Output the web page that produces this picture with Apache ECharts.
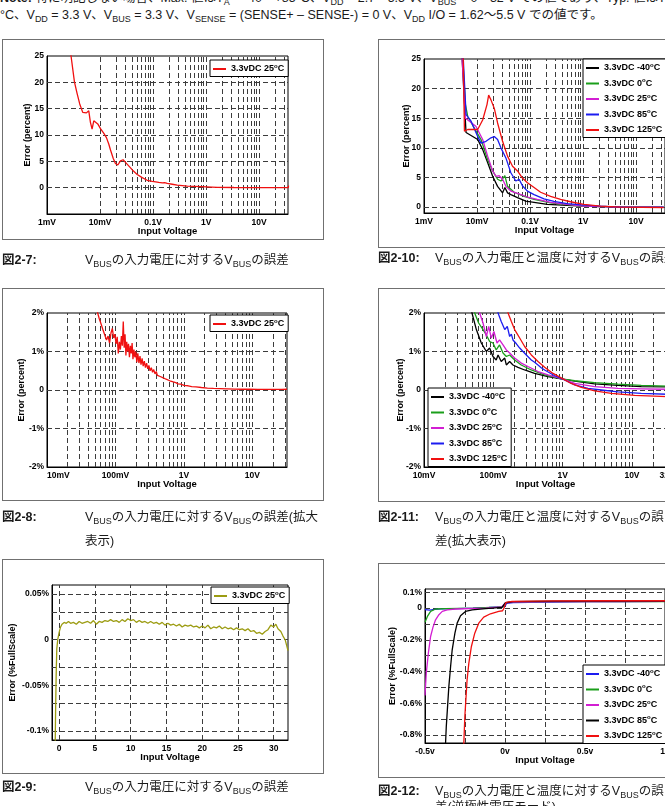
<!DOCTYPE html>
<html>
<head>
<meta charset="utf-8">
<script src="https://cdn.jsdelivr.net/npm/echarts@6/dist/echarts.min.js"></script>
<style>
  body { margin: 0; width: 665px; height: 806px; overflow: hidden; background: #fff; position: relative;
         font-family: 'Liberation Sans', 'Noto Sans CJK JP', sans-serif; color: #1a1a1a; }
  .frame { position: absolute; border: 1px solid #707070; box-sizing: border-box; pointer-events: none; }
  .chart { position: absolute; }
  .cap { position: absolute; font-size: 12.5px; line-height: 16px; white-space: nowrap; }
  .note { position: absolute; left: 0; font-size: 12.5px; line-height: 16px; white-space: nowrap; }
  sub { font-size: 0.72em; vertical-align: -0.3em; line-height: 0; }
</style>
</head>
<body>
<div class="note" style="top:-10px"><b>Note:</b> 特に明記しない場合、Max. 値はT<sub>A</sub> = -40～+85°C、V<sub>DD</sub> = 2.7～5.5 V、V<sub>BUS</sub> = 0～32 V での値であり、Typ. 値はT<sub>A</sub> = +25</div>
<div class="note" style="top:7px">°C、V<sub>DD</sub> = 3.3 V、V<sub>BUS</sub> = 3.3 V、V<sub>SENSE</sub> = (SENSE+ – SENSE-) = 0 V、V<sub>DD</sub> I/O = 1.62～5.5 V での値です。</div>

<div id="c7" class="chart" style="left:2px;top:39px;width:322px;height:201px"></div>
<div class="frame" style="left:2px;top:39px;width:322px;height:201px"></div>
<div id="c10" class="chart" style="left:378px;top:39px;width:320px;height:209px"></div>
<div class="frame" style="left:378px;top:39px;width:320px;height:209px"></div>
<div id="c8" class="chart" style="left:2px;top:288px;width:322px;height:213px"></div>
<div class="frame" style="left:2px;top:288px;width:322px;height:213px"></div>
<div id="c11" class="chart" style="left:378px;top:288px;width:320px;height:214px"></div>
<div class="frame" style="left:378px;top:288px;width:320px;height:214px"></div>
<div id="c9" class="chart" style="left:2px;top:559px;width:322px;height:215px"></div>
<div class="frame" style="left:2px;top:559px;width:322px;height:215px"></div>
<div id="c12" class="chart" style="left:378px;top:563px;width:320px;height:215px"></div>
<div class="frame" style="left:378px;top:563px;width:320px;height:215px"></div>

<div class="cap" style="left:2px;top:252px"><b>図2-7:</b></div>
<div class="cap" style="left:85px;top:252px">V<sub>BUS</sub>の入力電圧に対するV<sub>BUS</sub>の誤差</div>
<div class="cap" style="left:378px;top:250px"><b>図2-10:</b></div>
<div class="cap" style="left:435px;top:250px">V<sub>BUS</sub>の入力電圧と温度に対するV<sub>BUS</sub>の誤差</div>
<div class="cap" style="left:2px;top:509px"><b>図2-8:</b></div>
<div class="cap" style="left:85px;top:509px">V<sub>BUS</sub>の入力電圧に対するV<sub>BUS</sub>の誤差(拡大</div>
<div class="cap" style="left:85px;top:533px">表示)</div>
<div class="cap" style="left:378px;top:509px"><b>図2-11:</b></div>
<div class="cap" style="left:435px;top:509px">V<sub>BUS</sub>の入力電圧と温度に対するV<sub>BUS</sub>の誤</div>
<div class="cap" style="left:435px;top:533px">差(拡大表示)</div>
<div class="cap" style="left:2px;top:779px"><b>図2-9:</b></div>
<div class="cap" style="left:85px;top:779px">V<sub>BUS</sub>の入力電圧に対するV<sub>BUS</sub>の誤差</div>
<div class="cap" style="left:378px;top:783px"><b>図2-12:</b></div>
<div class="cap" style="left:435px;top:783px">V<sub>BUS</sub>の入力電圧と温度に対するV<sub>BUS</sub>の誤</div>
<div class="cap" style="left:435px;top:799px">差(逆極性電圧モード)</div>

<script>
// ---- legend names ----
const name25 = '3.3vDC 25°C'
const tempNames = ['3.3vDC -40°C', '3.3vDC 0°C', '3.3vDC 25°C', '3.3vDC 85°C', '3.3vDC 125°C']

// ---- Fig 2-7 : error vs input voltage (log x) ----
const f7Volt = [0.0027, 0.00284, 0.00329, 0.00369, 0.00414, 0.00472, 0.00553, 0.00613, 0.00659, 0.00708,
  0.00762, 0.00819, 0.00906, 0.0102, 0.0118, 0.0132, 0.0146, 0.0157, 0.0177, 0.0195, 0.0216, 0.0243,
  0.0273, 0.0302, 0.0325, 0.0365, 0.0422, 0.0502, 0.0624, 0.0776, 0.0964, 0.105, 0.112, 0.120, 0.128,
  0.139, 0.150, 0.165, 0.185, 0.230, 0.286, 0.443, 0.790, 1.63, 3.37, 8.05, 19.2, 35.3, 35.9]
const f7Err = [28, 25, 20.1, 17.9, 15.9, 14.3, 14.2, 14.6, 12.4, 11.1,
  12.7, 13.0, 12.1, 11.2, 10.3, 9.5, 8.3, 7.2, 5.6, 4.6, 4.3, 5.1,
  5.3, 4.8, 4.6, 3.9, 3.2, 2.5, 1.9, 1.4, 1.2, 1.45, 1.1, 1.3, 1.0,
  1.15, 0.9, 0.95, 0.8, 0.65, 0.5, 0.3, 0.2, 0.06, 0.03, 0.02, 0.02, 0.03, 0.4]

// ---- Fig 2-8 : zoomed ----
const f8Volt = [0.054, 0.058, 0.062, 0.066, 0.070, 0.074, 0.078, 0.082, 0.086, 0.090, 0.094, 0.098, 0.102,
  0.106, 0.110, 0.114, 0.118, 0.122, 0.126, 0.130, 0.134, 0.138, 0.142, 0.146, 0.150, 0.155, 0.160,
  0.165, 0.170, 0.175, 0.180, 0.186, 0.192, 0.198, 0.205, 0.212, 0.220, 0.228, 0.236, 0.245, 0.254,
  0.264, 0.274, 0.285, 0.296, 0.308, 0.320, 0.334, 0.348, 0.362, 0.378, 0.394, 0.41, 0.43, 0.45, 0.47,
  0.49, 0.52, 0.55, 0.58, 0.62, 0.66, 0.70, 0.76, 0.82, 0.90, 1.0, 1.15, 1.3, 1.5, 1.8, 2.2, 2.7, 3.4,
  4.3, 5.5, 7, 9, 12, 16, 21, 27, 32]
const f8Err = [2.05, 1.85, 1.70, 1.55, 1.42, 1.30, 1.40, 1.22, 1.48, 1.60, 1.35, 1.45, 1.20,
  1.38, 0.95, 1.25, 1.05, 1.40, 1.15, 1.78, 1.10, 1.45, 0.90, 1.25, 1.00, 1.20, 0.85,
  1.15, 0.95, 1.22, 0.80, 1.05, 0.85, 1.00, 0.72, 0.95, 0.70, 0.88, 0.66, 0.82, 0.62,
  0.75, 0.58, 0.70, 0.55, 0.64, 0.50, 0.58, 0.46, 0.53, 0.42, 0.48, 0.38, 0.43, 0.35, 0.39,
  0.32, 0.34, 0.28, 0.29, 0.24, 0.24, 0.21, 0.19, 0.16, 0.15, 0.12, 0.11, 0.09, 0.08, 0.065, 0.05, 0.04, 0.035,
  0.03, 0.025, 0.02, 0.02, 0.015, 0.015, 0.015, 0.015, 0.02]

// ---- Fig 2-9 : %FullScale error vs linear input ----
const f9Volt = [-0.56, -0.5, -0.42, -0.33, -0.2, 0, 0.2, 0.4, 0.7, 1.0, 1.3, 1.6, 2.0, 2.4, 2.8, 3.2, 3.6,
  4.0, 4.4, 4.8, 5.2, 5.6, 6.0, 6.4, 6.8, 7.2, 7.6, 8.0, 8.4, 8.8, 9.2, 9.6, 10.0, 10.4, 10.8, 11.2,
  11.6, 12.0, 12.4, 12.8, 13.2, 13.6, 14.0, 14.4, 14.8, 15.2, 15.6, 16.0, 16.4, 16.8, 17.2, 17.6, 18.0,
  18.4, 18.8, 19.2, 19.6, 20.0, 20.4, 20.8, 21.2, 21.6, 22.0, 22.4, 22.8, 23.2, 23.6, 24.0, 24.4, 24.8,
  25.2, 25.6, 26.0, 26.4, 26.8, 27.2, 27.6, 28.0, 28.4, 28.8, 29.2, 29.6, 30.0, 30.3, 30.6, 31.0, 31.3,
  31.6, 31.8, 32.0]
const f9Err = [-0.12, -0.08, -0.04, -0.01, 0.0, 0.008, 0.014, 0.017, 0.019, 0.018, 0.020, 0.018, 0.019, 0.017, 0.020, 0.018, 0.019,
  0.020, 0.018, 0.021, 0.017, 0.020, 0.019, 0.021, 0.020, 0.022, 0.020, 0.021, 0.019, 0.022, 0.020, 0.023, 0.021, 0.022, 0.019, 0.021,
  0.019, 0.020, 0.018, 0.020, 0.018, 0.019, 0.017, 0.019, 0.016, 0.018, 0.016, 0.017, 0.015, 0.017, 0.014, 0.016, 0.015,
  0.016, 0.014, 0.015, 0.013, 0.015, 0.013, 0.016, 0.012, 0.014, 0.013, 0.015, 0.012, 0.014, 0.012, 0.013, 0.011, 0.013,
  0.011, 0.012, 0.010, 0.012, 0.009, 0.010, 0.007, 0.008, 0.006, 0.009, 0.011, 0.016, 0.014, 0.017, 0.012, 0.009, 0.004,
  0.000, -0.006, -0.012]

// ---- Fig 2-10 : vs temperature (log x) ----
const f10VoltM40 = [0.0049, 0.0062, 0.0103, 0.0128, 0.0159, 0.0197, 0.0244, 0.0303, 0.0335, 0.0376, 0.0434, 0.0579, 0.0829, 0.119, 0.211, 0.501, 0.957, 2.11, 8.91, 33]
const f10ErrM40 = [30, 12.6, 11.4, 9.7, 7.5, 5.2, 3.5, 2.4, 3.3, 2.4, 2.1, 1.6, 1.0, 0.8, 0.45, 0.28, 0.17, 0.06, 0.0, 0.0]
const f10Volt0 = [0.00501, 0.00604, 0.00668, 0.00891, 0.01189, 0.01585, 0.0197, 0.0244, 0.0282, 0.0303, 0.0335, 0.0376, 0.0501, 0.0772, 0.119, 0.244, 0.501, 1.03, 5.01, 33]
const f10Err0 = [30, 17.3, 15.3, 13.3, 11.4, 8.0, 6.1, 4.7, 4.4, 4.2, 5.3, 3.5, 2.5, 1.8, 1.3, 0.7, 0.4, 0.17, 0.02, 0.0]
const f10Volt25 = [0.00487, 0.00604, 0.00772, 0.00957, 0.01277, 0.01585, 0.0197, 0.0227, 0.0262, 0.0303, 0.0350, 0.0434, 0.0579, 0.0891, 0.137, 0.244, 0.501, 1.03, 5.01, 33]
const f10Err25 = [30, 15.0, 14.3, 13.6, 11.4, 8.6, 6.1, 5.2, 5.3, 4.7, 3.5, 2.7, 2.3, 1.7, 1.3, 0.8, 0.45, 0.17, 0.01, 0.0]
const f10Volt85 = [0.00516, 0.00622, 0.00772, 0.01029, 0.01189, 0.01475, 0.0183, 0.0211, 0.0244, 0.0282, 0.0350, 0.0434, 0.0538, 0.0622, 0.0718, 0.0891, 0.119, 0.183, 0.282, 0.501, 1.03, 2.11, 5.01, 33]
const f10Err85 = [30, 15.6, 14.5, 11.9, 10.8, 11.1, 11.7, 11.9, 11.4, 10.0, 8.3, 5.8, 4.4, 4.7, 3.6, 2.7, 2.1, 1.4, 0.95, 0.6, 0.34, 0.17, 0.0, -0.05]
const f10Volt125 = [0.00538, 0.00579, 0.00668, 0.01029, 0.01277, 0.0154, 0.01656, 0.0183, 0.0211, 0.0244, 0.0303, 0.0376, 0.0467, 0.0579, 0.0718, 0.0891, 0.119, 0.158, 0.244, 0.376, 0.579, 1.03, 2.11, 5.01, 33]
const f10Err125 = [30, 12.8, 13.1, 13.1, 14.7, 17.3, 18.9, 18.1, 16.7, 14.2, 11.1, 8.6, 6.9, 6.1, 4.9, 4.1, 3.3, 2.5, 1.8, 1.3, 0.9, 0.45, 0.17, 0.0, -0.1]

// ---- Fig 2-11 : vs temperature, zoomed ----
const f11VoltM40 = [0.0462, 0.0492, 0.0569, 0.0671, 0.0793, 0.0885, 0.0988, 0.110, 0.117, 0.130, 0.146, 0.154, 0.172, 0.192, 0.227, 0.283, 0.394, 0.614, 0.957, 1.49, 2.89, 6.28, 13.6, 32]
const f11ErrM40 = [2.3, 2.0, 1.57, 1.22, 1.0, 1.09, 0.87, 0.78, 0.91, 0.74, 0.83, 0.65, 0.74, 0.65, 0.59, 0.52, 0.43, 0.35, 0.29, 0.23, 0.16, 0.12, 0.09, 0.08]
const f11Volt0 = [0.050, 0.0538, 0.0614, 0.0710, 0.0793, 0.0885, 0.0988, 0.110, 0.123, 0.138, 0.154, 0.172, 0.203, 0.253, 0.353, 0.550, 0.957, 1.49, 2.89, 6.28, 13.6, 32]
const f11Err0 = [2.3, 2.0, 1.74, 1.57, 1.43, 1.26, 1.22, 1.04, 1.17, 0.96, 0.87, 0.91, 0.78, 0.65, 0.52, 0.39, 0.29, 0.24, 0.19, 0.15, 0.12, 0.10]
const f11Volt25 = [0.060, 0.0635, 0.0710, 0.0793, 0.0857, 0.0935, 0.102, 0.113, 0.123, 0.138, 0.154, 0.172, 0.203, 0.253, 0.316, 0.441, 0.614, 1.01, 1.49, 2.89, 6.28, 13.6, 32]
const f11Err25 = [2.3, 2.0, 1.74, 1.39, 1.65, 1.35, 1.52, 1.22, 1.30, 1.17, 1.04, 0.96, 0.83, 0.70, 0.61, 0.48, 0.39, 0.28, 0.17, 0.09, 0.04, 0.03, 0.02]
const f11Volt85 = [0.110, 0.117, 0.130, 0.146, 0.159, 0.172, 0.182, 0.192, 0.203, 0.215, 0.227, 0.240, 0.253, 0.268, 0.283, 0.299, 0.316, 0.353, 0.394, 0.441, 0.49, 0.550, 0.767, 1.01, 1.49, 2.32, 3.61, 6.28, 13.6, 32]
const f11Err85 = [2.3, 2.0, 1.78, 1.57, 1.65, 1.39, 1.45, 1.30, 1.35, 1.20, 1.24, 1.09, 1.12, 1.00, 1.03, 0.91, 0.93, 0.78, 0.72, 0.65, 0.58, 0.52, 0.37, 0.28, 0.13, 0.04, 0.0, -0.05, -0.09, -0.11]
const f11Volt125 = [0.155, 0.163, 0.182, 0.203, 0.240, 0.283, 0.353, 0.441, 0.550, 0.726, 1.01, 1.33, 1.86, 2.89, 5.04, 10.9, 32]
const f11Err125 = [2.3, 2.0, 1.78, 1.57, 1.35, 1.13, 0.91, 0.74, 0.59, 0.43, 0.29, 0.17, 0.07, -0.02, -0.09, -0.14, -0.17]

// ---- Fig 2-12 : reverse polarity (linear x) ----
const f12VoltM40 = [-0.5, -0.47, -0.44, -0.40, -0.3, -0.2, -0.1, -0.02, 0.0, 0.01, 0.05, 0.15, 0.3, 0.5, 0.75, 1.0]
const f12ErrM40 = [-0.01, -0.013, -0.008, -0.005, -0.003, 0.0, 0.004, 0.008, 0.01, 0.03, 0.035, 0.036, 0.038, 0.040, 0.041, 0.042]
const f12Volt0 = [-0.5, -0.485, -0.465, -0.434, -0.37, -0.2, -0.05, -0.01, 0.005, 0.05, 0.3, 0.6, 1.0]
const f12Err0 = [-0.09, -0.053, -0.021, -0.006, -0.004, -0.001, 0.006, 0.009, 0.034, 0.038, 0.040, 0.041, 0.041]
const f12Volt25 = [-0.5, -0.492, -0.479, -0.465, -0.45, -0.434, -0.413, -0.392, -0.361, -0.309, -0.122, -0.019, 0.002, 0.05, 0.3, 0.6, 1.0]
const f12Err25 = [-0.55, -0.41, -0.284, -0.179, -0.12, -0.074, -0.042, -0.021, -0.011, -0.006, 0.0, 0.008, 0.032, 0.038, 0.040, 0.041, 0.042]
const f12Volt85 = [-0.378, -0.367, -0.351, -0.340, -0.330, -0.313, -0.299, -0.278, -0.247, -0.205, -0.122, -0.019, 0.002, 0.05, 0.3, 0.6, 1.0]
const f12Err85 = [-1.0, -0.747, -0.495, -0.368, -0.263, -0.158, -0.095, -0.048, -0.021, -0.011, -0.004, 0.004, 0.032, 0.040, 0.043, 0.044, 0.044]
const f12Volt125 = [-0.263, -0.251, -0.237, -0.226, -0.210, -0.189, -0.164, -0.133, -0.091, -0.039, -0.015, -0.006, 0.006, 0.044, 0.3, 0.6, 1.0]
const f12Err125 = [-1.0, -0.684, -0.453, -0.347, -0.242, -0.158, -0.095, -0.057, -0.036, -0.021, -0.017, 0.0, 0.036, 0.042, 0.045, 0.046, 0.046]

// ---- tick labels ----
const mvTickVals = [0.001, 0.01, 0.1, 1, 10]
const mvTickText = ['1mV', '10mV', '0.1V', '1V', '10V']
const zoomTickVals = [0.01, 0.1, 1, 10, 32]
const zoomTickText = ['10mV', '100mV', '1V', '10V', '32V']
const pctTickVals = [-2, -1, 0, 1, 2]
const pctTickText = ['-2%', '-1%', '0', '1%', '2%']
const errTickVals = [0, 5, 10, 15, 20, 25]
const fsTickVals = [-0.1, -0.05, 0, 0.05]
const fsTickText = ['-0.1%', '-0.05%', '0', '0.05%']
const linTickVals = [0, 5, 10, 15, 20, 25, 30]
const revTickVals = [-0.5, 0, 0.5, 1]
const revTickText = ['-0.5v', '0v', '0.5v', '1v']
const revYTickVals = [0.1, 0, -0.2, -0.4, -0.6, -0.8]
const revYTickText = ['0.1%', '0', '-0.2%', '-0.4%', '-0.6%', '-0.8%']

const tempColors = ['#000000', '#1a9e1a', '#d21ed2', '#1c1cf0', '#f01010']
const revColors = ['#1c1cf0', '#1a9e1a', '#d21ed2', '#000000', '#f01010']
const FONT = 'Liberation Sans'

function labelFrom(vals, texts) {
  return function (v) {
    for (let i = 0; i < vals.length; i++) {
      if (Math.abs(v - vals[i]) <= Math.abs(vals[i]) * 1e-6 + 1e-9) return texts ? texts[i] : String(vals[i])
    }
    return ''
  }
}

// decade grid 1..9 x 10^k inside the axis range
function logGrid(min, max) {
  const out = []
  for (let e = Math.floor(Math.log10(min)); e <= Math.ceil(Math.log10(max)); e++) {
    for (let m = 1; m < 10; m++) {
      const v = m * Math.pow(10, e)
      if (v > min * 1.0001 && v < max * 0.9999) out.push(v)
    }
  }
  return out
}
function linGrid(from, to, step) {
  const out = []
  for (let v = from; v <= to + 1e-9; v += step) out.push(+v.toFixed(6))
  return out
}

function axisText(size) {
  return { fontFamily: FONT, fontWeight: 'bold', fontSize: size, color: '#000' }
}

// "3.3vDC 25°C" -> degree sign drawn as a raised small "o"
function legendText(n) {
  const parts = n.split('°')
  return '{n|' + parts[0] + '}{sup|o}{n|' + parts[1] + '}'
}

function plot(id, cfg) {
  const chart = echarts.init(document.getElementById(id))
  const marks = cfg.vLines.map(v => ({ xAxis: v })).concat(cfg.hLines.map(v => ({ yAxis: v })))
  const series = [{
    name: 'grid', type: 'line', data: [], z: 1, silent: true,
    markLine: {
      silent: true, symbol: ['none', 'none'], animation: false, z: 1,
      label: { show: false },
      lineStyle: { color: '#3c3c3c', type: [5, 3], width: 1 },
      data: marks
    }
  }]
  cfg.curves.forEach(c => {
    series.push({
      name: c.name, type: 'line', z: 3,
      data: c.x.map((x, i) => [x, c.y[i]]),
      symbol: 'none', showSymbol: false,
      lineStyle: { color: c.color, width: 1.3 },
      itemStyle: { color: c.color }
    })
  })
  const xAxis = {
    type: cfg.xType, min: cfg.xMin, max: cfg.xMax,
    name: 'Input Voltage', nameLocation: 'middle', nameGap: 12, nameMoveOverlap: false,
    nameTextStyle: axisText(9.5),
    axisLine: { show: true, onZero: false, lineStyle: { color: '#000', width: 1 } },
    axisTick: { show: false }, splitLine: { show: false },
    axisLabel: Object.assign({ margin: 4, formatter: cfg.xFmt }, axisText(8.5), cfg.xLabel || {})
  }
  if (cfg.xType === 'log') xAxis.logBase = 10
  const yAxis = {
    type: 'value', min: cfg.yMin, max: cfg.yMax,
    name: cfg.yName, nameLocation: 'middle', nameGap: cfg.yGap, nameMoveOverlap: false,
    nameTextStyle: axisText(9),
    axisLine: { show: true, onZero: false, lineStyle: { color: '#000', width: 1 } },
    axisTick: { show: false }, splitLine: { show: false },
    axisLabel: Object.assign({ margin: 3, customValues: cfg.yVals, formatter: cfg.yFmt,
      showMinLabel: true, showMaxLabel: true }, axisText(8.5))
  }
  chart.setOption({
    animation: false,
    grid: Object.assign({ show: true, borderColor: '#000', borderWidth: 1, containLabel: false,
      outerBoundsMode: 'none' }, cfg.grid),
    legend: Object.assign({
      data: cfg.curves.map(c => c.name), orient: 'vertical', selectedMode: false, z: 10,
      backgroundColor: '#fff', borderColor: '#000', borderWidth: 1, borderRadius: 0,
      padding: [3, 4, 3, 3], itemGap: 5, itemWidth: 13, itemHeight: 2, icon: 'rect',
      formatter: legendText,
      textStyle: Object.assign(axisText(9), {
        rich: {
          n: { fontFamily: FONT, fontWeight: 'bold', fontSize: 9, color: '#000', lineHeight: 12 },
          sup: { fontFamily: FONT, fontWeight: 'bold', fontSize: 6, color: '#000', lineHeight: 6, verticalAlign: 'top' }
        }
      })
    }, cfg.legend),
    xAxis: xAxis,
    yAxis: yAxis,
    series: series
  })
}

plot('c7', {
  grid: { left: 45, top: 17, width: 241, height: 158 },
  legend: { left: 208, top: 21 },
  xType: 'log', xMin: 0.001, xMax: 35, xFmt: labelFrom(mvTickVals, mvTickText),
  yMin: -5, yMax: 25, yVals: errTickVals, yFmt: labelFrom(errTickVals), yName: 'Error (percent)', yGap: 15,
  vLines: logGrid(0.001, 35), hLines: [0, 5, 10, 15, 20],
  curves: [{ name: name25, color: '#f01010', x: f7Volt, y: f7Err }]
})

plot('c10', {
  grid: { left: 46, top: 20, width: 241, height: 154 },
  legend: { left: 205, top: 20 },
  xType: 'log', xMin: 0.001, xMax: 35, xFmt: labelFrom(mvTickVals, mvTickText),
  yMin: -1, yMax: 25, yVals: errTickVals, yFmt: labelFrom(errTickVals), yName: 'Error (percent)', yGap: 13,
  vLines: logGrid(0.001, 35), hLines: [0, 5, 10, 15, 20],
  curves: [
    { name: tempNames[0], color: tempColors[0], x: f10VoltM40, y: f10ErrM40 },
    { name: tempNames[1], color: tempColors[1], x: f10Volt0, y: f10Err0 },
    { name: tempNames[2], color: tempColors[2], x: f10Volt25, y: f10Err25 },
    { name: tempNames[3], color: tempColors[3], x: f10Volt85, y: f10Err85 },
    { name: tempNames[4], color: tempColors[4], x: f10Volt125, y: f10Err125 }
  ]
})

plot('c8', {
  grid: { left: 45, top: 25, width: 240, height: 154 },
  legend: { left: 208, top: 27 },
  xType: 'log', xMin: 0.01, xMax: 32, xFmt: labelFrom(zoomTickVals.slice(0, 4), zoomTickText.slice(0, 4)),
  xLabel: { alignMinLabel: 'left' },
  yMin: -2, yMax: 2, yVals: pctTickVals, yFmt: labelFrom(pctTickVals, pctTickText), yName: 'Error (percent)', yGap: 21,
  vLines: logGrid(0.01, 32), hLines: [-1, 0, 1],
  curves: [{ name: name25, color: '#f01010', x: f8Volt, y: f8Err }]
})

plot('c11', {
  grid: { left: 46, top: 25, width: 243, height: 154 },
  legend: { left: 50, top: 100 },
  xType: 'log', xMin: 0.01, xMax: 32, xFmt: labelFrom(zoomTickVals, zoomTickText),
  yMin: -2, yMax: 2, yVals: pctTickVals, yFmt: labelFrom(pctTickVals, pctTickText), yName: 'Error (percent)', yGap: 19,
  vLines: logGrid(0.01, 32), hLines: [-1, 0, 1],
  curves: [
    { name: tempNames[0], color: tempColors[0], x: f11VoltM40, y: f11ErrM40 },
    { name: tempNames[1], color: tempColors[1], x: f11Volt0, y: f11Err0 },
    { name: tempNames[2], color: tempColors[2], x: f11Volt25, y: f11Err25 },
    { name: tempNames[3], color: tempColors[3], x: f11Volt85, y: f11Err85 },
    { name: tempNames[4], color: tempColors[4], x: f11Volt125, y: f11Err125 }
  ]
})

plot('c9', {
  grid: { left: 50, top: 26, width: 236, height: 155 },
  legend: { left: 209, top: 28 },
  xType: 'value', xMin: -1, xMax: 32, xFmt: labelFrom(linTickVals),
  xLabel: { customValues: linTickVals },
  yMin: -0.11, yMax: 0.06, yVals: fsTickVals, yFmt: labelFrom(fsTickVals, fsTickText), yName: 'Error (%FullScale)', yGap: 35,
  vLines: linTickVals, hLines: linGrid(-0.1, 0.05, 0.025),
  curves: [{ name: name25, color: '#9c9c12', x: f9Volt, y: f9Err }]
})

plot('c12', {
  grid: { left: 47, top: 26, width: 240, height: 154 },
  legend: { left: 205, top: 102 },
  xType: 'value', xMin: -0.5, xMax: 1, xFmt: labelFrom(revTickVals, revTickText),
  xLabel: { customValues: revTickVals },
  yMin: -0.85, yMax: 0.12, yVals: revYTickVals, yFmt: labelFrom(revYTickVals, revYTickText), yName: 'Error (%FullScale)', yGap: 28,
  vLines: [-0.25, 0, 0.25, 0.5, 0.75], hLines: linGrid(-0.8, 0.1, 0.1),
  curves: [
    { name: tempNames[0], color: revColors[0], x: f12VoltM40, y: f12ErrM40 },
    { name: tempNames[1], color: revColors[1], x: f12Volt0, y: f12Err0 },
    { name: tempNames[2], color: revColors[2], x: f12Volt25, y: f12Err25 },
    { name: tempNames[3], color: revColors[3], x: f12Volt85, y: f12Err85 },
    { name: tempNames[4], color: revColors[4], x: f12Volt125, y: f12Err125 }
  ]
})
</script>
</body>
</html>
